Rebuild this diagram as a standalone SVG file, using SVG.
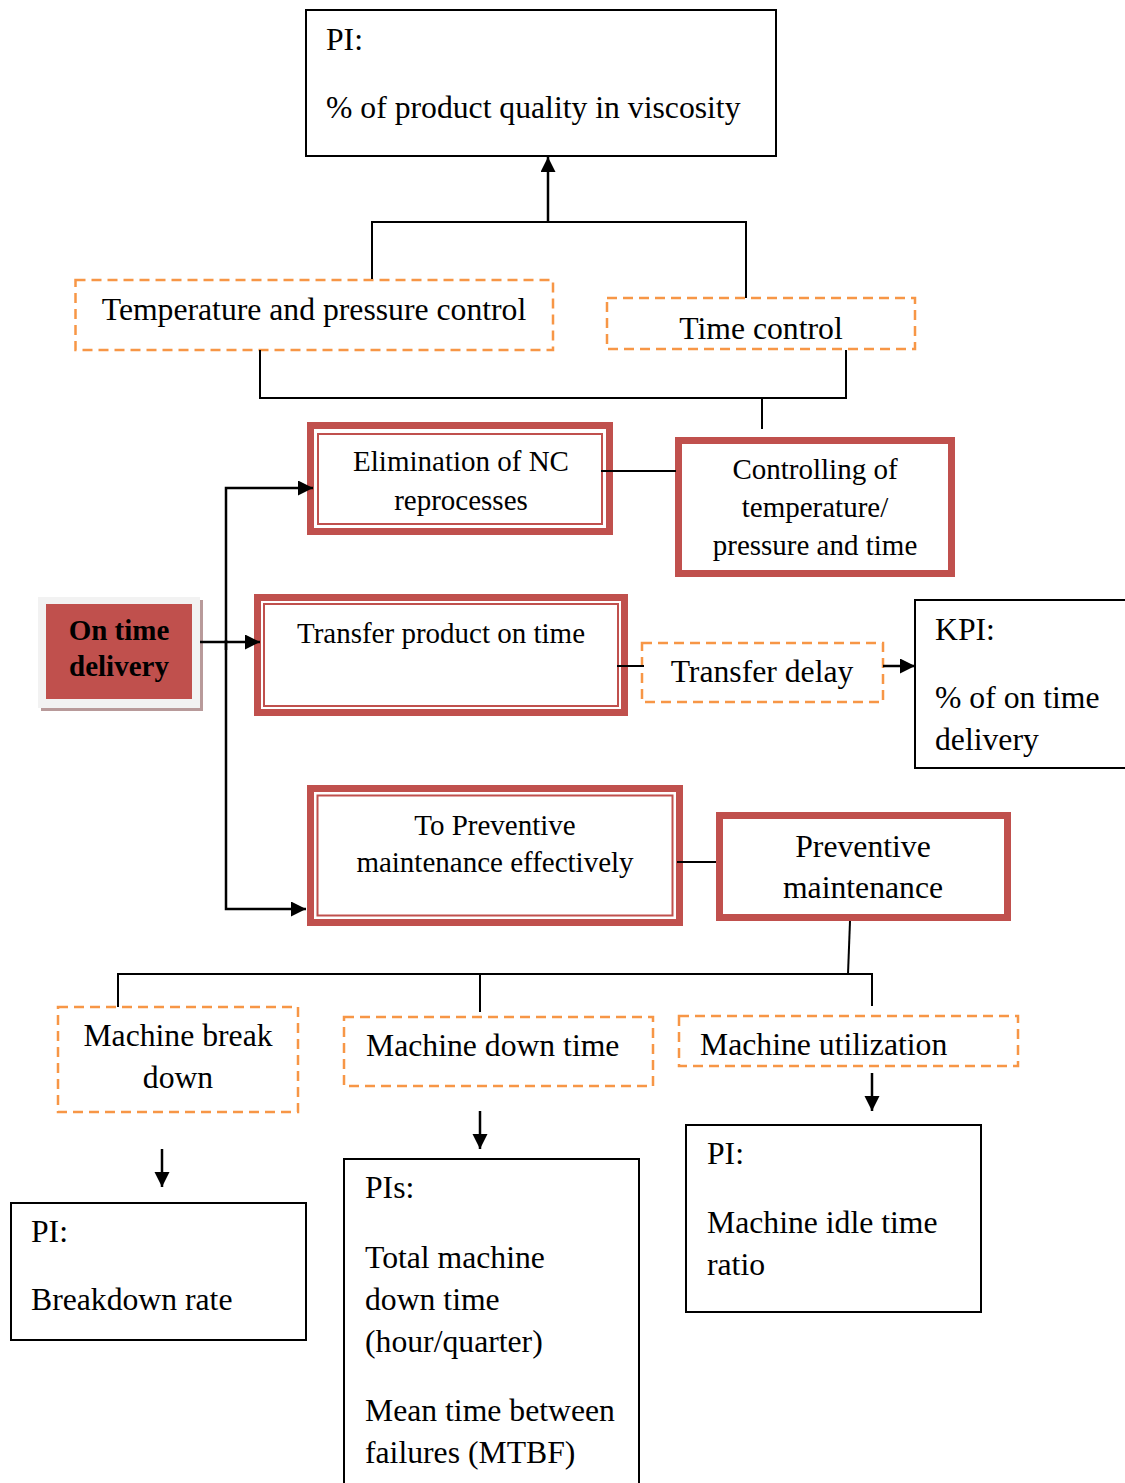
<svg xmlns="http://www.w3.org/2000/svg" width="1125" height="1483" viewBox="0 0 1125 1483">
  <defs>
    <marker id="ah" markerUnits="userSpaceOnUse" markerWidth="16" markerHeight="16" refX="15" refY="7.5" orient="auto">
      <path d="M0,0 L15,7.5 L0,15 z" fill="#000"/>
    </marker>
    <style>
      text { font-family: "Liberation Serif", "Times New Roman", serif; fill: #000; }
      .t { font-size: 31.7px; }
      .s { font-size: 29px; }
      .c { text-anchor: middle; }
      .b { font-weight: bold; font-size: 29px; text-anchor: middle; }
      .box { fill: #fff; stroke: #000; stroke-width: 2; }
      .dash { fill: #fff; stroke: #f79646; stroke-width: 2.5; stroke-dasharray: 10 6; }
      .red { fill: #fff; stroke: #c0504d; stroke-width: 7; }
      .redin { fill: none; stroke: #c0504d; stroke-width: 2; }
      .ln { fill: none; stroke: #000; stroke-width: 2; }
      .arr { fill: none; stroke: #000; stroke-width: 2.5; marker-end: url(#ah); }
    </style>
  </defs>

  <rect width="1125" height="1483" fill="#fff"/>

  <!-- top performance indicator -->
  <g id="pi-viscosity">
    <rect class="box" x="306" y="10" width="470" height="146"/>
    <text class="t" x="326" y="50">PI:</text>
    <text class="t" x="326" y="118">% of product quality in viscosity</text>
  </g>

  <g id="temp-pressure-control">
    <rect class="dash" x="75.5" y="280" width="477.5" height="70"/>
    <text class="t c" x="314" y="320">Temperature and pressure control</text>
  </g>

  <g id="time-control">
    <rect class="dash" x="607" y="298" width="308" height="51"/>
    <text class="t c" x="761" y="339">Time control</text>
  </g>

  <g id="elimination-nc">
    <rect class="red" x="310.5" y="425.5" width="299" height="106"/>
    <rect class="redin" x="318" y="434" width="284" height="90"/>
    <text class="s c" x="461" y="471">Elimination of NC</text>
    <text class="s c" x="461" y="510">reprocesses</text>
  </g>

  <g id="controlling">
    <rect class="red" x="678.5" y="440.5" width="273" height="133"/>
    <text class="s c" x="815" y="479">Controlling of</text>
    <text class="s c" x="815" y="517">temperature/</text>
    <text class="s c" x="815" y="555">pressure and time</text>
  </g>

  <g id="on-time-delivery">
    <rect x="41" y="600" width="162" height="111" fill="#b89a9a"/>
    <rect x="38" y="597" width="162" height="111" fill="#f2f2f2"/>
    <rect x="46" y="604" width="146" height="95" fill="#c0504d"/>
    <text class="b" x="119" y="640">On time</text>
    <text class="b" x="119" y="676">delivery</text>
  </g>

  <g id="transfer-product">
    <rect class="red" x="257.5" y="597.5" width="367" height="115"/>
    <rect class="redin" x="264" y="604" width="354" height="102"/>
    <text class="s c" x="441" y="643">Transfer product on time</text>
  </g>

  <g id="transfer-delay">
    <rect class="dash" x="642" y="643" width="241" height="59"/>
    <text class="t c" x="762" y="682">Transfer delay</text>
  </g>

  <g id="kpi-on-time">
    <rect class="box" x="915" y="600" width="220" height="168"/>
    <text class="t" x="935" y="640">KPI:</text>
    <text class="t" x="935" y="708">% of on time</text>
    <text class="t" x="935" y="750">delivery</text>
  </g>

  <g id="to-preventive">
    <rect class="red" x="310.5" y="788.5" width="369" height="134"/>
    <rect class="redin" x="317.5" y="795.5" width="355" height="120"/>
    <text class="s c" x="495" y="835">To Preventive</text>
    <text class="s c" x="495" y="872">maintenance effectively</text>
  </g>

  <g id="preventive-maintenance">
    <rect class="red" x="719.5" y="815.5" width="288" height="102"/>
    <text class="t c" x="863" y="857">Preventive</text>
    <text class="t c" x="863" y="898">maintenance</text>
  </g>

  <g id="machine-breakdown">
    <rect class="dash" x="58" y="1007" width="240" height="105"/>
    <text class="t c" x="178" y="1046">Machine break</text>
    <text class="t c" x="178" y="1088">down</text>
  </g>

  <g id="machine-down-time">
    <rect class="dash" x="344" y="1017" width="309" height="69"/>
    <text class="t" x="366" y="1056">Machine down time</text>
  </g>

  <g id="machine-utilization">
    <rect class="dash" x="679" y="1016" width="339" height="50"/>
    <text class="t" x="700" y="1055">Machine utilization</text>
  </g>

  <g id="pi-breakdown">
    <rect class="box" x="11" y="1203" width="295" height="137"/>
    <text class="t" x="31" y="1242">PI:</text>
    <text class="t" x="31" y="1310">Breakdown rate</text>
  </g>

  <g id="pi-down-time">
    <rect class="box" x="344" y="1159" width="295" height="340"/>
    <text class="t" x="365" y="1198">PIs:</text>
    <text class="t" x="365" y="1268">Total machine</text>
    <text class="t" x="365" y="1310">down time</text>
    <text class="t" x="365" y="1352">(hour/quarter)</text>
    <text class="t" x="365" y="1421">Mean time between</text>
    <text class="t" x="365" y="1463">failures (MTBF)</text>
  </g>

  <g id="pi-idle-time">
    <rect class="box" x="686" y="1125" width="295" height="187"/>
    <text class="t" x="707" y="1164">PI:</text>
    <text class="t" x="707" y="1233">Machine idle time</text>
    <text class="t" x="707" y="1275">ratio</text>
  </g>

  <!-- connectors, drawn over the node borders -->
  <g id="connectors">
    <path class="ln" d="M372,279 V222 H746 V298"/>
    <path class="arr" d="M548,222 V157"/>
    <path class="ln" d="M260,350 V398 H846 V350"/>
    <path class="ln" d="M762,398 V429"/>
    <path class="ln" d="M601,471 H676"/>
    <path class="arr" d="M200,642 H260"/>
    <path class="arr" d="M226,650 V488 H313"/>
    <path class="arr" d="M226,640 V909 H306"/>
    <path class="ln" d="M617,666 H644"/>
    <path class="arr" d="M883,666 H915"/>
    <path class="ln" d="M677,862 H716"/>
    <path class="ln" d="M850,921 L848,974"/>
    <path class="ln" d="M118,1007 V974 H872 V1006"/>
    <path class="ln" d="M480,974 V1012"/>
    <path class="arr" d="M162,1149 V1187"/>
    <path class="arr" d="M480,1111 V1149"/>
    <path class="arr" d="M872,1073 V1111"/>
  </g>
</svg>
